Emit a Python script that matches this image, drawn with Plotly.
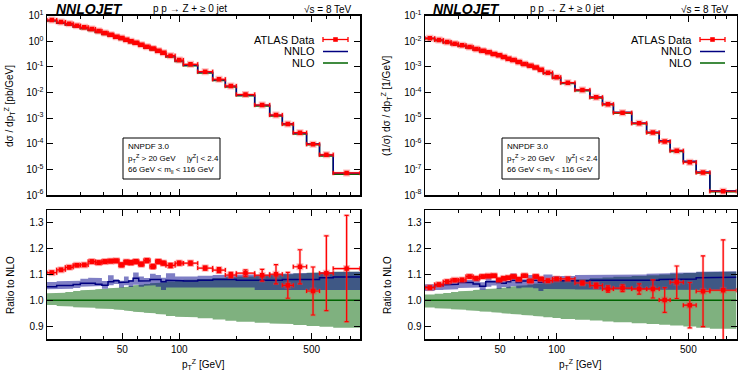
import math
import plotly.graph_objects as go

W, H = 738, 372

# ---------------- data ----------------
pt_edges = [20, 22.5, 25, 27.5, 30, 33, 36, 39, 42, 45, 48, 51, 54, 57, 61, 65, 70, 75, 80, 85,
            95, 105, 125, 150, 175, 200, 250, 300, 350, 400, 470, 550, 650, 900]

# ATLAS data, absolute [pb/GeV]
data_abs = [6.8, 5.66, 4.88, 4.07, 3.51, 3.02, 2.53, 2.11, 1.82, 1.52, 1.35, 1.16, 1.0, 0.886,
            0.74, 0.62, 0.52, 0.43, 0.36, 0.275, 0.186, 0.126, 0.065, 0.033, 0.018, 0.0083,
            0.00327, 0.00133, 5.9e-4, 2.7e-4, 9.5e-5, 3.7e-5, 7.3e-6]
# ATLAS data, normalised [1/GeV]
data_norm = [1.31e-2, 1.12e-2, 9.4e-3, 8.1e-3, 6.97e-3, 6.0e-3, 5.0e-3, 4.32e-3, 3.72e-3, 3.2e-3,
             2.84e-3, 2.44e-3, 2.1e-3, 1.86e-3, 1.56e-3, 1.3e-3, 1.12e-3, 9.4e-4, 7.8e-4, 5.97e-4,
             3.93e-4, 2.43e-4, 1.26e-4, 6.5e-5, 3.47e-5, 1.64e-5, 6.3e-6, 2.73e-6, 1.22e-6,
             5.4e-7, 1.9e-7, 7.5e-8, 1.4e-8]

# ratio panels: data / NLO
ratio_data_abs = [1.107, 1.118, 1.128, 1.136, 1.137, 1.150, 1.146, 1.150, 1.152, 1.153, 1.137,
                  1.148, 1.146, 1.150, 1.140, 1.154, 1.131, 1.150, 1.144, 1.135, 1.144, 1.144,
                  1.125, 1.117, 1.098, 1.105, 1.097, 1.101, 1.058, 1.130, 1.036, 1.105, 1.123]
ratio_err_abs = [0.006, 0.006, 0.006, 0.006, 0.006, 0.007, 0.007, 0.007, 0.007, 0.007, 0.008,
                 0.008, 0.008, 0.008, 0.008, 0.008, 0.008, 0.008, 0.008, 0.008, 0.008, 0.008,
                 0.008, 0.010, 0.010, 0.013, 0.023, 0.037, 0.050, 0.066, 0.093, 0.145, 0.206]
ratio_data_norm = [1.049, 1.061, 1.072, 1.078, 1.079, 1.092, 1.085, 1.092, 1.094, 1.095, 1.079,
                   1.085, 1.087, 1.092, 1.082, 1.095, 1.075, 1.092, 1.083, 1.076, 1.083, 1.083,
                   1.067, 1.057, 1.044, 1.047, 1.044, 1.044, 1.001, 1.070, 0.981, 1.035, 1.039]
ratio_err_norm = [0.006, 0.006, 0.006, 0.006, 0.006, 0.006, 0.006, 0.006, 0.006, 0.006, 0.006,
                  0.006, 0.006, 0.006, 0.006, 0.006, 0.006, 0.006, 0.006, 0.006, 0.006, 0.006,
                  0.007, 0.010, 0.012, 0.013, 0.020, 0.035, 0.048, 0.063, 0.088, 0.137, 0.195]

# NNLO / NLO (absolute)
nnlo_abs = [1.053, 1.057, 1.057, 1.061, 1.066, 1.066, 1.062, 1.058, 1.072, 1.076, 1.069, 1.071,
            1.075, 1.085, 1.075, 1.076, 1.081, 1.081, 1.072, 1.078, 1.076, 1.075, 1.078, 1.081,
            1.081, 1.078, 1.076, 1.078, 1.081, 1.081, 1.081, 1.087, 1.090]
nnlo_up_abs = [1.071, 1.074, 1.074, 1.076, 1.084, 1.087, 1.086, 1.075, 1.097, 1.082, 1.076, 1.092,
               1.079, 1.108, 1.092, 1.086, 1.103, 1.098, 1.087, 1.105, 1.092, 1.092, 1.095, 1.098,
               1.098, 1.100, 1.100, 1.102, 1.104, 1.105, 1.107, 1.110, 1.111]
nnlo_dn_abs = [1.043, 1.045, 1.045, 1.048, 1.053, 1.054, 1.055, 1.045, 1.058, 1.063, 1.050, 1.058,
               1.052, 1.060, 1.053, 1.056, 1.058, 1.053, 1.040, 1.050, 1.050, 1.050, 1.050, 1.050,
               1.050, 1.050, 1.040, 1.040, 1.040, 1.040, 1.040, 1.040, 1.040]
nlo_up_abs = [1.027, 1.029, 1.032, 1.036, 1.039, 1.041, 1.043, 1.045, 1.047, 1.049, 1.051, 1.053,
              1.055, 1.058, 1.060, 1.063, 1.066, 1.068, 1.070, 1.073, 1.077, 1.080, 1.083, 1.086,
              1.089, 1.092, 1.095, 1.098, 1.101, 1.104, 1.107, 1.109, 1.111]
nlo_dn_abs = [0.982, 0.978, 0.976, 0.973, 0.972, 0.971, 0.968, 0.967, 0.966, 0.964, 0.962, 0.960,
              0.958, 0.956, 0.954, 0.952, 0.950, 0.947, 0.945, 0.939, 0.936, 0.934, 0.930, 0.926,
              0.921, 0.917, 0.913, 0.910, 0.908, 0.904, 0.900, 0.897, 0.894]

# NNLO / NLO (normalised)
nnlo_norm = [1.051, 1.056, 1.060, 1.062, 1.069, 1.069, 1.063, 1.054, 1.072, 1.072, 1.069, 1.066,
             1.072, 1.078, 1.069, 1.075, 1.078, 1.078, 1.070, 1.076, 1.075, 1.075, 1.076, 1.078,
             1.078, 1.076, 1.076, 1.078, 1.081, 1.082, 1.083, 1.087, 1.089]
nnlo_up_norm = [1.062, 1.066, 1.068, 1.070, 1.078, 1.080, 1.080, 1.070, 1.090, 1.078, 1.072, 1.086,
                1.074, 1.104, 1.086, 1.082, 1.098, 1.094, 1.084, 1.100, 1.094, 1.094, 1.098, 1.100,
                1.100, 1.100, 1.100, 1.103, 1.105, 1.107, 1.108, 1.111, 1.113]
nnlo_dn_norm = [1.036, 1.040, 1.041, 1.043, 1.048, 1.049, 1.050, 1.040, 1.053, 1.057, 1.045, 1.052,
                1.047, 1.054, 1.047, 1.050, 1.050, 1.047, 1.036, 1.044, 1.044, 1.043, 1.042, 1.042,
                1.042, 1.042, 1.040, 1.040, 1.040, 1.040, 1.040, 1.040, 1.040]
nlo_up_norm = [1.022, 1.025, 1.028, 1.032, 1.035, 1.037, 1.040, 1.042, 1.044, 1.046, 1.048, 1.050,
               1.052, 1.054, 1.056, 1.058, 1.061, 1.064, 1.066, 1.070, 1.074, 1.078, 1.082, 1.085,
               1.088, 1.091, 1.094, 1.097, 1.100, 1.103, 1.106, 1.109, 1.111]
nlo_dn_norm = [0.972, 0.969, 0.967, 0.965, 0.963, 0.961, 0.959, 0.957, 0.956, 0.954, 0.952, 0.950,
               0.948, 0.947, 0.945, 0.943, 0.941, 0.939, 0.937, 0.934, 0.931, 0.928, 0.925, 0.922,
               0.918, 0.915, 0.911, 0.908, 0.905, 0.902, 0.898, 0.894, 0.890]

x_tick_vals = [50, 100, 500]
x_tick_text = ["50", "100", "500"]
x_minor_vals = [20, 30, 40, 60, 70, 80, 90, 200, 300, 400, 600, 700, 800, 900]
ratio_tick_vals = [0.9, 1.0, 1.1, 1.2, 1.3]
ratio_tick_text = ["0.9", "1.0", "1.1", "1.2", "1.3"]
abs_tick_vals = [1e-6, 1e-5, 1e-4, 1e-3, 1e-2, 1e-1, 1, 10]
abs_tick_text = ["10<sup>-6</sup>", "10<sup>-5</sup>", "10<sup>-4</sup>", "10<sup>-3</sup>",
                 "10<sup>-2</sup>", "10<sup>-1</sup>", "10<sup>0</sup>", "10<sup>1</sup>"]
norm_tick_vals = [1e-8, 1e-7, 1e-6, 1e-5, 1e-4, 1e-3, 1e-2, 1e-1]
norm_tick_text = ["10<sup>-8</sup>", "10<sup>-7</sup>", "10<sup>-6</sup>", "10<sup>-5</sup>",
                  "10<sup>-4</sup>", "10<sup>-3</sup>", "10<sup>-2</sup>", "10<sup>-1</sup>"]

# ---------------- style ----------------
FONT = "Liberation Sans, Arial, Helvetica, sans-serif"
RED = "#ff0000"
HALO = "rgba(255,60,60,0.35)"
NAVY = "#000080"
GREEN = "#006400"
GREEN_FILL = "rgba(0,100,0,0.5)"
BLUE_FILL = "rgba(0,0,139,0.5)"


def px(x):
    return x / W


def py(y):
    return 1 - y / H


def step(edges, vals):
    xs, ys = [], []
    for i, v in enumerate(vals):
        xs += [edges[i], edges[i + 1]]
        ys += [v, v]
    return xs, ys


def band(edges, up, dn):
    xu, yu = step(edges, up)
    xd, yd = step(edges, dn)
    return xu + xd[::-1] + [xu[0]], yu + yd[::-1] + [yu[0]]


lo = pt_edges[:-1]
hi = pt_edges[1:]
centres = [math.sqrt(a * b) for a, b in zip(lo, hi)]
ex_plus = [b - c for b, c in zip(hi, centres)]
ex_minus = [c - a for a, c in zip(lo, centres)]

fig = go.Figure()


def add_data(xa, ya, yvals, yerr):
    common = dict(x=centres, y=yvals, mode="markers", xaxis=xa, yaxis=ya, showlegend=False,
                  hoverinfo="skip")
    ey_halo = dict(type="data", array=yerr, color=HALO, thickness=2.5, width=3) if yerr else None
    ey = dict(type="data", array=yerr, color=RED, thickness=1.2, width=2) if yerr else None
    fig.add_trace(go.Scatter(**common,
                             marker=dict(symbol="square", size=7, color=HALO),
                             error_x=dict(type="data", symmetric=False, array=ex_plus,
                                          arrayminus=ex_minus, color=HALO, thickness=2.5, width=2.5),
                             error_y=ey_halo))
    fig.add_trace(go.Scatter(**common,
                             marker=dict(symbol="square", size=4.5, color=RED),
                             error_x=dict(type="data", symmetric=False, array=ex_plus,
                                          arrayminus=ex_minus, color=RED, thickness=1.2, width=2),
                             error_y=ey))


def add_ratio_panel(xa, ya, nnlo, nnlo_up, nnlo_dn, nlo_up, nlo_dn, rdata, rerr):
    bx, by = band(pt_edges, nlo_up, nlo_dn)
    fig.add_trace(go.Scatter(x=bx, y=by, fill="toself", fillcolor=GREEN_FILL, mode="lines",
                             line=dict(width=0), xaxis=xa, yaxis=ya, showlegend=False,
                             hoverinfo="skip"))
    bx, by = band(pt_edges, nnlo_up, nnlo_dn)
    fig.add_trace(go.Scatter(x=bx, y=by, fill="toself", fillcolor=BLUE_FILL, mode="lines",
                             line=dict(width=0), xaxis=xa, yaxis=ya, showlegend=False,
                             hoverinfo="skip"))
    sx, sy = step(pt_edges, [1.0] * len(nnlo))
    fig.add_trace(go.Scatter(x=sx, y=sy, mode="lines", line=dict(color=GREEN, width=1.5),
                             xaxis=xa, yaxis=ya, showlegend=False, hoverinfo="skip"))
    sx, sy = step(pt_edges, nnlo)
    fig.add_trace(go.Scatter(x=sx, y=sy, mode="lines", line=dict(color=NAVY, width=1.5),
                             xaxis=xa, yaxis=ya, showlegend=False, hoverinfo="skip"))
    add_data(xa, ya, rdata, rerr)


def add_top_panel(xa, ya, dvals, rdata, nnlo):
    # theory histograms: NLO = data / (data/NLO), NNLO = NLO * (NNLO/NLO)
    nlo_vals = [d / r for d, r in zip(dvals, rdata)]
    nnlo_vals = [n * k for n, k in zip(nlo_vals, nnlo)]
    sx, sy = step(pt_edges, nlo_vals)
    fig.add_trace(go.Scatter(x=sx, y=sy, mode="lines", line=dict(color=GREEN, width=1.5),
                             xaxis=xa, yaxis=ya, showlegend=False, hoverinfo="skip"))
    sx, sy = step(pt_edges, nnlo_vals)
    fig.add_trace(go.Scatter(x=sx, y=sy, mode="lines", line=dict(color=NAVY, width=1.5),
                             xaxis=xa, yaxis=ya, showlegend=False, hoverinfo="skip"))
    add_data(xa, ya, dvals, None)


add_top_panel("x", "y", data_abs, ratio_data_abs, nnlo_abs)
add_ratio_panel("x2", "y2", nnlo_abs, nnlo_up_abs, nnlo_dn_abs, nlo_up_abs, nlo_dn_abs,
                ratio_data_abs, ratio_err_abs)
add_top_panel("x3", "y3", data_norm, ratio_data_norm, nnlo_norm)
add_ratio_panel("x4", "y4", nnlo_norm, nnlo_up_norm, nnlo_dn_norm, nlo_up_norm, nlo_dn_norm,
                ratio_data_norm, ratio_err_norm)

# ---------------- axes ----------------
XL = [px(47), px(360)]
XR = [px(425), px(736.5)]
YT = [py(195), py(15.7)]
YB = [py(339), py(210)]
xrange_log = [math.log10(20), math.log10(900)]


def xax(dom, anchor, labels):
    return dict(type="log", domain=dom, anchor=anchor, range=xrange_log,
                tickvals=x_tick_vals, ticktext=x_tick_text, showticklabels=labels,
                ticks="inside", ticklen=6, tickwidth=1, tickcolor="black",
                minor=dict(tickvals=x_minor_vals, ticks="inside", ticklen=3, tickcolor="black",
                           showgrid=False),
                showline=True, linecolor="black", linewidth=1.5, mirror="allticks",
                showgrid=False, zeroline=False, automargin=False,
                tickfont=dict(family=FONT, size=10, color="black"))


def yax(dom, anchor, rng, vals, text, log):
    d = dict(domain=dom, anchor=anchor, range=rng, tickvals=vals, ticktext=text,
             ticks="inside", ticklen=6, tickwidth=1, tickcolor="black",
             showline=True, linecolor="black", linewidth=1.5, mirror="allticks",
             showgrid=False, zeroline=False, automargin=False,
             tickfont=dict(family=FONT, size=10, color="black"))
    if log:
        d["type"] = "log"
    return d


fig.update_layout(
    width=W, height=H, autosize=False,
    margin=dict(l=0, r=0, t=0, b=0),
    paper_bgcolor="white", plot_bgcolor="white",
    font=dict(family=FONT, size=10, color="black"),
    showlegend=False,
    hovermode=False,
    xaxis=xax(XL, "y", False),
    yaxis=yax(YT, "x", [-6, 1], abs_tick_vals, abs_tick_text, True),
    xaxis2=xax(XL, "y2", True),
    yaxis2=yax(YB, "x2", [0.85, 1.35], ratio_tick_vals, ratio_tick_text, False),
    xaxis3=xax(XR, "y3", False),
    yaxis3=yax(YT, "x3", [-8, -1], norm_tick_vals, norm_tick_text, True),
    xaxis4=xax(XR, "y4", True),
    yaxis4=yax(YB, "x4", [0.85, 1.35], ratio_tick_vals, ratio_tick_text, False),
)

ann = []
shapes = []


def text(x, y, s, size=10, xanchor="center", angle=0, yanchor="middle"):
    ann.append(dict(x=px(x), y=py(y), xref="paper", yref="paper", text=s, showarrow=False,
                    xanchor=xanchor, yanchor=yanchor, textangle=angle,
                    font=dict(family=FONT, size=size, color="black")))


for off, ytitle in [(0, "dσ / dp<sub>T</sub><sup>Z</sup> [pb/GeV]"),
                    (377, "(1/σ) dσ / dp<sub>T</sub><sup>Z</sup> [1/GeV]")]:
    # header
    text(54 + off, 9.5, "<b><i>NNLOJET</i></b>", size=14, xanchor="left")
    text(190 + off, 9, "p p → Z + ≥ 0 jet", size=10)
    text(354 + off, 9.5, "√s = 8 TeV", size=10, xanchor="right")
    # axis titles
    text(10 + off, 106, ytitle, size=10, angle=-90)
    text(10 + off, 285, "Ratio to NLO", size=10, angle=-90)
    text(203 + off, 364, "p<sub>T</sub><sup>Z</sup> [GeV]", size=10)
    # legend
    lx0, lx1 = 323 + off, 348 + off
    text(317 + off, 39.5, "ATLAS Data", size=11, xanchor="right")
    text(317 + off, 51.5, "NNLO", size=11, xanchor="right")
    text(317 + off, 63, "NLO", size=11, xanchor="right")
    shapes.append(dict(type="line", xref="paper", yref="paper", x0=px(lx0), x1=px(lx1),
                       y0=py(39.5), y1=py(39.5), line=dict(color=RED, width=1.3)))
    for cx in (lx0, lx1):
        shapes.append(dict(type="line", xref="paper", yref="paper", x0=px(cx), x1=px(cx),
                           y0=py(37), y1=py(42), line=dict(color=RED, width=1.3)))
    cx = (lx0 + lx1) / 2
    shapes.append(dict(type="rect", xref="paper", yref="paper", x0=px(cx - 2.3), x1=px(cx + 2.3),
                       y0=py(41.8), y1=py(37.2), fillcolor=RED, line=dict(width=0)))
    shapes.append(dict(type="line", xref="paper", yref="paper", x0=px(lx0), x1=px(lx1),
                       y0=py(51.5), y1=py(51.5), line=dict(color=NAVY, width=1.5)))
    shapes.append(dict(type="line", xref="paper", yref="paper", x0=px(lx0), x1=px(lx1),
                       y0=py(63), y1=py(63), line=dict(color=GREEN, width=1.5)))
    # info box
    bx0 = 123 + off if off == 0 else 502
    shapes.append(dict(type="rect", xref="paper", yref="paper", x0=px(bx0), x1=px(bx0 + 97),
                       y0=py(179), y1=py(138), line=dict(color="black", width=1),
                       fillcolor="white", layer="above"))
    text(bx0 + 3, 146, "NNPDF 3.0", size=8, xanchor="left")
    text(bx0 + 3, 158, "p<sub>T</sub><sup>Z</sup> > 20 GeV     |y<sup>Z</sup>| < 2.4", size=8,
         xanchor="left")
    text(bx0 + 3, 170, "66 GeV < m<sub>ll</sub> < 116 GeV", size=8, xanchor="left")

fig.update_layout(annotations=ann, shapes=shapes)
fig.write_html("out.html",
               config={"displayModeBar": False, "staticPlot": True},
               post_script="document.body.style.margin='0px';"
                           "document.body.style.overflow='hidden';")
